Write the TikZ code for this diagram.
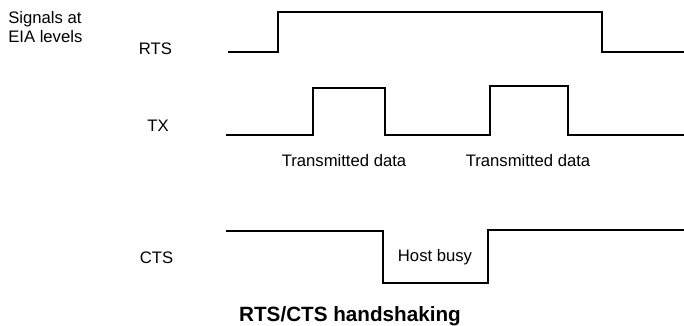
\documentclass[tikz,border=0pt]{standalone}
\usepackage{fontspec}
\setmainfont{Liberation Sans}
\usetikzlibrary{positioning}

\begin{document}
\begin{tikzpicture}[x=0.75pt, y=-0.75pt,
    signame/.style={anchor=base, inner sep=0pt, font=\fontsize{12.5}{14.6}\selectfont},
    note/.style={anchor=base, inner sep=0pt, font=\fontsize{12.5}{14.6}\selectfont},
    heading/.style={anchor=base, inner sep=0pt, font=\fontsize{15.5}{18}\selectfont\bfseries},
    wave/.style={draw=black, line width=1pt, line join=miter}]

    \useasboundingbox (0,0) rectangle (684,325);

    % Nodes - labels
    \node[anchor=north west, inner sep=0pt, align=left,
          font=\fontsize{12.5}{14.6}\selectfont] (levels) at (8,11) {Signals at\\EIA levels};
    \node[signame] (rts) at (155.5,54.3) {RTS};
    \node[signame] (tx) at (158,131) {TX};
    \node[signame] (cts) at (156.5,263.3) {CTS};
    \node[note] (data1) at (344,166.7) {Transmitted data};
    \node[note] (data2) at (528,166.7) {Transmitted data};
    \node[note] (busy) at (435,261.5) {Host busy};
    \node[heading] (caption) at (350,321) {RTS/CTS handshaking};

    % Waveforms
    \draw[wave] (228,52) -- (278,52) -- (278,12) -- (602,12) -- (602,52) -- (684,52);
    \draw[wave] (226,135) -- (313,135) -- (313,88) -- (385,88) -- (385,135)
        -- (490,135) -- (490,86) -- (568,86) -- (568,135) -- (684,135);
    \draw[wave] (226,231) -- (383,231) -- (383,283) -- (488,283) -- (488,230) -- (684,230);

\end{tikzpicture}
\end{document}
